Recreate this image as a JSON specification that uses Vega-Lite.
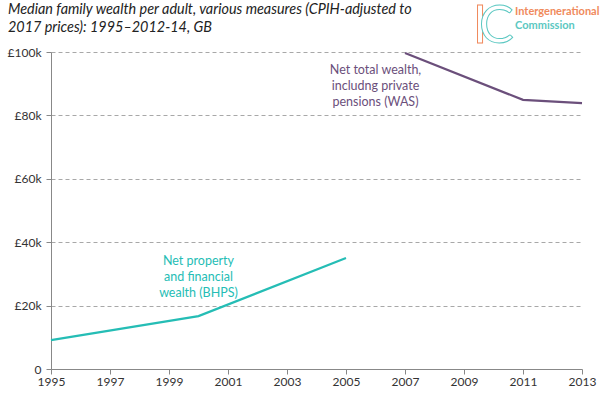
{
  "$schema": "https://vega.github.io/schema/vega-lite/v6.json",
  "width": 531,
  "height": 317,
  "autosize": {"type": "none"},
  "padding": {"left": 51, "top": 52, "right": 23, "bottom": 28},
  "background": "white",
  "config": {
    "view": {"stroke": null},
    "font": "Lato",
    "axis": {"labelFont": "Lato", "labelFontSize": 12, "labelColor": "#333333", "domainColor": "#888888", "tickColor": "#888888"}
  },
  "title": {
    "text": ["Median family wealth per adult, various measures (CPIH-adjusted to", "2017 prices): 1995–2012-14, GB"],
    "anchor": "start",
    "frame": "group",
    "dx": -43,
    "dy": 34,
    "offset": 0,
    "fontSize": 14.4,
    "fontStyle": "italic",
    "fontWeight": "normal",
    "font": "Lato",
    "color": "#222222",
    "lineHeight": 18
  },
  "datasets": {
    "series": [
      {"series": "BHPS", "year": 1995, "value": 9100},
      {"series": "BHPS", "year": 2000, "value": 16700},
      {"series": "BHPS", "year": 2005, "value": 35000},
      {"series": "WAS", "year": 2007, "value": 99700},
      {"series": "WAS", "year": 2011, "value": 84900},
      {"series": "WAS", "year": 2013, "value": 83900}
    ],
    "labels": [
      {"series": "BHPS", "year": 2000, "value": 34000, "label": ["Net property", "and financial", "wealth (BHPS)"]},
      {"series": "WAS", "year": 2006, "value": 94300, "label": ["Net total wealth,", "includng private", "pensions (WAS)"]}
    ],
    "logo": [
      {"year": 2010.73, "value": 112700, "label": "Intergenerational", "c": "#F08A5D"},
      {"year": 2010.73, "value": 108300, "label": "Commission", "c": "#5CC8C2"}
    ],
    "glyphs": [
      {"year": 2009.54, "value": 102800, "label": "I", "c": "#F08A5D", "f": "DejaVu Serif"},
      {"year": 2010.1, "value": 102800, "label": "C", "c": "#5CC8C2", "f": "DejaVu Sans"}
    ]
  },
  "layer": [
    {
      "data": {"name": "series"},
      "mark": {"type": "line", "strokeWidth": 2.2},
      "encoding": {
        "x": {
          "field": "year", "type": "quantitative",
          "scale": {"domain": [1995, 2013], "nice": false, "zero": false},
          "axis": {"title": null, "values": [1995, 1997, 1999, 2001, 2003, 2005, 2007, 2009, 2011, 2013], "format": "d", "grid": false, "tickSize": 5, "labelPadding": 2, "labelFlush": false}
        },
        "y": {
          "field": "value", "type": "quantitative",
          "scale": {"domain": [0, 100000], "nice": false},
          "axis": {"title": null, "values": [0, 20000, 40000, 60000, 80000, 100000], "labelExpr": "datum.value == 0 ? '0' : '£' + (datum.value/1000) + 'k'", "grid": true, "gridDash": [4, 3], "gridColor": "#A8A8A8", "tickSize": 5, "labelPadding": 5}
        },
        "color": {"field": "series", "type": "nominal", "scale": {"domain": ["BHPS", "WAS"], "range": ["#25BDB5", "#6B4F7B"]}, "legend": null},
        "detail": {"field": "series"}
      }
    },
    {
      "data": {"name": "labels"},
      "mark": {"type": "text", "fontSize": 12.5, "lineHeight": 16, "align": "center", "baseline": "middle", "font": "Lato"},
      "encoding": {
        "x": {"field": "year", "type": "quantitative"},
        "y": {"field": "value", "type": "quantitative"},
        "text": {"field": "label"},
        "color": {"field": "series", "type": "nominal", "legend": null}
      }
    },
    {
      "data": {"name": "glyphs"},
      "mark": {"type": "text", "fontSize": 52, "align": "center", "baseline": "alphabetic", "fill": "white", "strokeWidth": 1, "clip": false},
      "encoding": {
        "x": {"field": "year", "type": "quantitative"},
        "y": {"field": "value", "type": "quantitative"},
        "text": {"field": "label"},
        "stroke": {"field": "c", "type": "nominal", "scale": null},
        "font": {"field": "f", "type": "nominal", "scale": null}
      }
    },
    {
      "data": {"name": "logo"},
      "mark": {"type": "text", "fontSize": 11, "align": "left", "baseline": "middle", "font": "Lato", "fontWeight": "bold", "clip": false},
      "encoding": {
        "x": {"field": "year", "type": "quantitative"},
        "y": {"field": "value", "type": "quantitative"},
        "text": {"field": "label"},
        "color": {"field": "c", "type": "nominal", "scale": null}
      }
    }
  ]
}
